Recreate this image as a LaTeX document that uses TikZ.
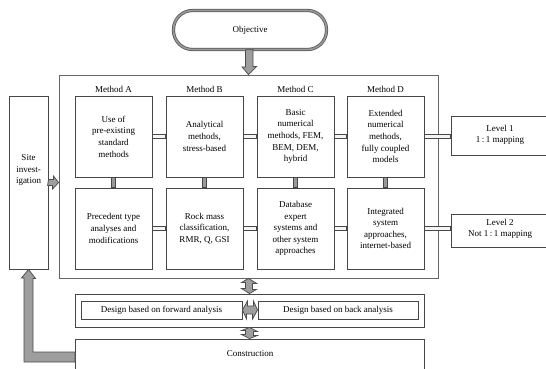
\documentclass[tikz,border=0pt]{standalone}
\usepackage{fontspec}
\setmainfont{Liberation Serif}
\begin{document}
\begin{tikzpicture}[x=1pt,y=-1pt,
  every node/.style={font=\fontsize{9}{11.6}\selectfont, align=center, inner sep=0pt},
  box/.style={draw=black!72, line width=0.9pt, fill=white, rectangle},
  mbox/.style={box, minimum width=77pt, minimum height=81pt},
  conn/.style={draw=black!72, fill=black!4, line width=0.8pt},
  vconn/.style={draw=black!72, fill=black!40, line width=0.8pt},
  barrow/.style={draw=black!70, fill=black!38, line width=0.75pt, line join=miter},
  lbl/.style={}
]
\useasboundingbox (0,0) rectangle (546,369);

% objective
\node[draw=black!65, double=black!40, double distance=1.6pt, line width=0.8pt,
      rounded corners=19pt, minimum width=153pt, minimum height=39pt, fill=white] (obj) at (250,30) {Objective};

% big frame
\node[draw=black!60, line width=0.8pt, minimum width=379pt, minimum height=203pt] (big) at (248.5,176.5) {};

% method labels
\node[lbl] (ma) at (113.5,89) {Method A};
\node[lbl] (mb) at (204.5,89) {Method B};
\node[lbl] (mc) at (295.5,89) {Method C};
\node[lbl] (md) at (385.5,89) {Method D};

% method boxes
\node[mbox] (a1) at (113.5,136.5) {Use of\\pre-existing\\standard\\methods};
\node[mbox] (b1) at (204.5,136.5) {Analytical\\methods,\\stress-based};
\node[mbox] (c1) at (295.5,136.5) {Basic\\numerical\\methods, FEM,\\BEM, DEM,\\hybrid};
\node[mbox] (d1) at (385.5,136.5) {Extended\\numerical\\methods,\\fully coupled\\models};
\node[mbox] (a2) at (113.5,228.5) {Precedent type\\analyses and\\modifications};
\node[mbox] (b2) at (204.5,228.5) {Rock mass\\classification,\\RMR, Q, GSI};
\node[mbox] (c2) at (295.5,228.5) {Database\\expert\\systems and\\other system\\approaches};
\node[mbox] (d2) at (385.5,228.5) {Integrated\\system\\approaches,\\internet-based};

% levels
\node[box, minimum width=99pt, minimum height=39pt] (l1) at (500.5,135.5) {};
\node[lbl] (l1t) at (500,135) {Level 1\\1\,:\,1 mapping};
\node[box, minimum width=99pt, minimum height=33pt] (l2) at (500.5,230.5) {};
\node[lbl] (l2t) at (500,229) {Level 2\\Not 1\,:\,1 mapping};

% site investigation
\node[box, minimum width=39pt, minimum height=173pt] (site) at (28.5,182.5) {};
\node[lbl] (sitet) at (28.5,170) {Site\\invest-\\igation};

% design row
\node[box, minimum width=349pt, minimum height=33pt] (des) at (249.5,310.5) {};
\node[box, minimum width=161pt, minimum height=18pt] (fwd) at (161.5,310) {Design based on forward analysis};
\node[box, minimum width=160pt, minimum height=18pt] (back) at (338,310) {Design based on back analysis};

% construction
\node[box, minimum width=349pt, minimum height=42pt] (con) at (249.5,360) {};
\node[lbl] (cont) at (250,354) {Construction};

% double-line connectors (drawn as thin bars)
\draw[conn] ([yshift=-1.8pt]a1.east) rectangle ([yshift=1.8pt]b1.west);
\draw[conn] ([yshift=-1.8pt]b1.east) rectangle ([yshift=1.8pt]c1.west);
\draw[conn] ([yshift=-1.8pt]c1.east) rectangle ([yshift=1.8pt]d1.west);
\draw[conn] ([yshift=-1.8pt]a2.east) rectangle ([yshift=1.8pt]b2.west);
\draw[conn] ([yshift=-1.8pt]b2.east) rectangle ([yshift=1.8pt]c2.west);
\draw[conn] ([yshift=-1.8pt]c2.east) rectangle ([yshift=1.8pt]d2.west);
\draw[vconn] ([xshift=-1.8pt]a1.south) rectangle ([xshift=1.8pt]a2.north);
\draw[vconn] ([xshift=-1.8pt]b1.south) rectangle ([xshift=1.8pt]b2.north);
\draw[vconn] ([xshift=-1.8pt]c1.south) rectangle ([xshift=1.8pt]c2.north);
\draw[vconn] ([xshift=-1.8pt]d1.south) rectangle ([xshift=1.8pt]d2.north);
\draw[conn] ([yshift=-1.8pt]d1.east) rectangle ([yshift=1.8pt]d1.east -| l1.west);
\draw[conn] ([yshift=-1.8pt]d2.east) rectangle ([yshift=1.8pt]d2.east -| l2.west);

% block arrows
\draw[barrow] (obj.south) ++(-4.5,0) -- ++(0,17) -- ++(-3.5,0) -- (big.north) -- ++(8,-8) -- ++(-3.5,0) -- ++(0,-17) -- cycle;
\draw[barrow] (site.east) ++(0,-3) -- ++(5,0) -- ++(0,-3.5) -- (site.east -| big.west) -- ++(-6,6.5) -- ++(0,-3.5) -- ++(-5,0) -- cycle;
\draw[barrow] (big.south) -- ++(8,5) -- ++(-4,0) -- ++(0,6) -- ++(4,0) -- (des.north) -- ++(-8,-5) -- ++(4,0) -- ++(0,-6) -- ++(-4,0) -- cycle;
\draw[barrow] (des.south) -- ++(8,4) -- ++(-4,0) -- ++(0,4) -- ++(4,0) -- (con.north) -- ++(-8,-4) -- ++(4,0) -- ++(0,-4) -- ++(-4,0) -- cycle;
\draw[barrow] (fwd.east) -- ++(5,-9) -- ++(0,5) -- ++(6,0) -- ++(0,-5) -- (back.west) -- ++(-5,9) -- ++(0,-5) -- ++(-6,0) -- ++(0,5) -- cycle;
\draw[barrow] (site.south) -- ++(7,9) -- ++(-2.5,0) -- (33,352) -- (75,352) -- (75,362) -- (24,362) -- (24,278) -- ++(-2.5,0) -- cycle;
\end{tikzpicture}
\end{document}
